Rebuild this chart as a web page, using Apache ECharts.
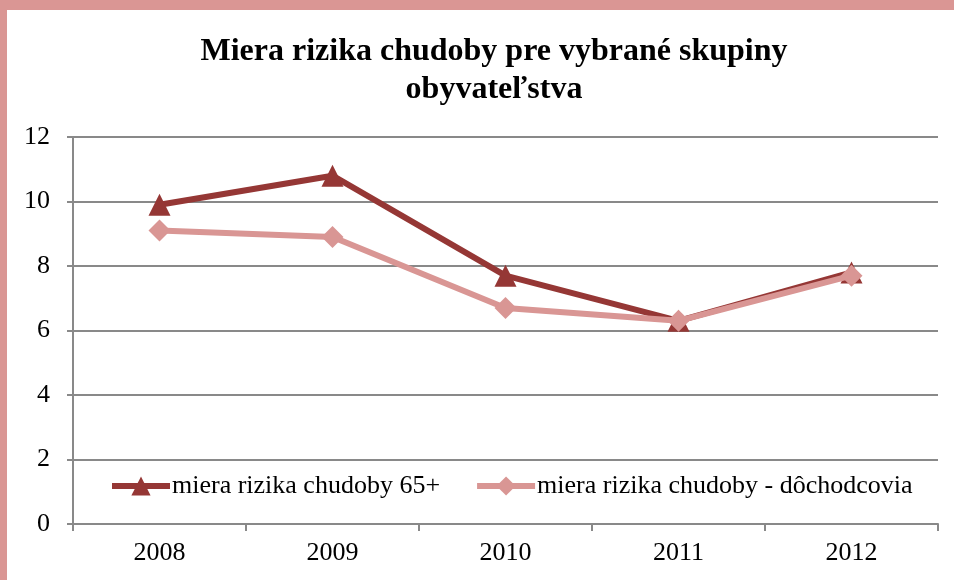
<!DOCTYPE html>
<html>
<head>
<meta charset="utf-8">
<script src="https://cdn.jsdelivr.net/npm/echarts@6/dist/echarts.min.js"></script>
<style>
  html, body { margin: 0; padding: 0; background: #fff; }
  #chart { width: 954px; height: 580px; }
</style>
</head>
<body>
<div id="chart"></div>
<script>
// Roky na osi X
const years = ['2008', '2009', '2010', '2011', '2012'];
// Miera rizika chudoby (%)
const risk65 = [9.9, 10.8, 7.7, 6.3, 7.8];
const riskPensioners = [9.1, 8.9, 6.7, 6.3, 7.7];
// Popisy radov a nadpis
const seriesNames = ['miera rizika chudoby 65+', 'miera rizika chudoby - dôchodcovia'];
const titleText = 'Miera rizika chudoby pre vybrané skupiny\nobyvateľstva';

const serif = '"Liberation Serif", "Times New Roman", serif';
const darkRed = '#953735';
const pink = '#D99694';
const frame = '#DA9694';
const gridGray = '#898989';

const chart = echarts.init(document.getElementById('chart'), null, { renderer: 'canvas' });

chart.setOption({
  animation: false,
  backgroundColor: '#fff',
  title: {
    text: titleText,
    left: 489,
    top: 28,
    textAlign: 'center',
    textStyle: {
      fontFamily: serif,
      fontWeight: 'bold',
      fontSize: 32,
      lineHeight: 38,
      color: '#000'
    }
  },
  graphic: [
    { type: 'rect', shape: { x: 0, y: 0, width: 954, height: 10 }, style: { fill: frame }, silent: true },
    { type: 'rect', shape: { x: 0, y: 0, width: 7, height: 580 }, style: { fill: frame }, silent: true }
  ],
  legend: {
    left: 104,
    top: 468,
    itemWidth: 58,
    itemHeight: 24,
    itemGap: 34,
    lineStyle: { width: 6 },
    textStyle: { fontFamily: serif, fontSize: 26, color: '#000', padding: [0, 0, 0, -3] },
    data: seriesNames
  },
  grid: {
    left: 73,
    right: 16,
    top: 137,
    bottom: 56,
    containLabel: false
  },
  xAxis: {
    type: 'category',
    data: years,
    boundaryGap: true,
    axisLine: { lineStyle: { color: gridGray, width: 2 } },
    axisTick: { show: true, length: 7, lineStyle: { color: gridGray, width: 2 } },
    axisLabel: { fontFamily: serif, fontSize: 26, color: '#000', margin: 16 },
    splitLine: { show: false }
  },
  yAxis: {
    type: 'value',
    min: 0,
    max: 12,
    interval: 2,
    axisLine: { show: true, lineStyle: { color: gridGray, width: 2 } },
    axisTick: { show: true, length: 6, lineStyle: { color: gridGray, width: 2 } },
    axisLabel: { fontFamily: serif, fontSize: 26, color: '#000', margin: 23 },
    splitLine: { show: true, lineStyle: { color: gridGray, width: 2 } }
  },
  series: [
    {
      name: seriesNames[0],
      type: 'line',
      data: risk65,
      symbol: 'triangle',
      symbolSize: 22,
      itemStyle: { color: darkRed },
      lineStyle: { color: darkRed, width: 6 },
      z: 2
    },
    {
      name: seriesNames[1],
      type: 'line',
      data: riskPensioners,
      symbol: 'diamond',
      symbolSize: 22,
      itemStyle: { color: pink },
      lineStyle: { color: pink, width: 6 },
      z: 3
    }
  ]
});
</script>
</body>
</html>
